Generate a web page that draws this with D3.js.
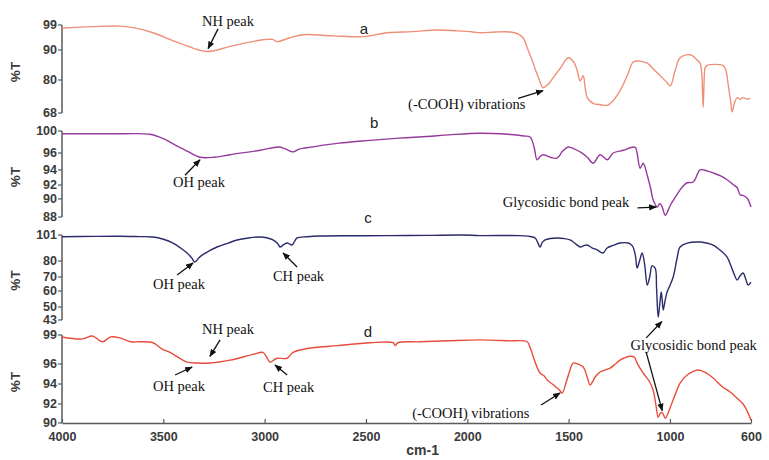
<!DOCTYPE html>
<html>
<head>
<meta charset="utf-8">
<script src="https://cdn.jsdelivr.net/npm/d3@7"></script>
<style>
  body { margin: 0; background: #fff; }
  .tick-label { font-family: "Liberation Sans Narrow", "Arial Narrow", "Liberation Sans", sans-serif; font-weight: bold; font-size: 12.5px; fill: #3a3a3a; }
  .note { font-family: "Liberation Serif", "Times New Roman", serif; font-size: 14.5px; fill: #111; }
  .panel-letter { font-family: "Liberation Sans", Arial, sans-serif; font-size: 15px; fill: #222; }
</style>
</head>
<body>
<svg id="ftir" width="769" height="460"></svg>
<script>
// x ticks (wavenumber, cm-1)
const xTicks = [4000, 3500, 3000, 2500, 2000, 1500, 1000, 600];

// per-panel %T tick labels
const ticksA = [68, 80, 90, 99];
const ticksB = [88, 90, 92, 94, 96, 100];
const ticksC = [43, 50, 60, 70, 80, 101];
const ticksD = [90, 92, 94, 96, 99];

// spectra: [wavenumber, %T]
const specA = [[4000,97.9],[3850,98.4],[3714,98.6],[3630,97.8],[3551,96.2],[3420,92.5],[3284,89.5],[3171,91.3],[3008,93.7],[2960,93.8],[2939,93],[2880,94.3],[2810,95.5],[2662,95.1],[2514,94.8],[2396,96.2],[2270,96.6],[2149,97.2],[2050,96.9],[1971,96.5],[1937,96.2],[1860,96.5],[1789,96.5],[1750,95.8],[1725,94.4],[1700,90],[1675,85.6],[1650,81],[1626,77.2],[1600,78.5],[1577,80.7],[1540,84],[1502,87.4],[1475,86],[1458,83.2],[1443,79.6],[1428,81.4],[1418,77],[1408,73.6],[1379,71.5],[1340,71],[1309,70.8],[1280,72.5],[1246,76.1],[1210,81.5],[1181,86],[1150,86.3],[1112,85.6],[1080,83.5],[1048,81.4],[1020,79.5],[998,77.9],[975,83],[950,87.4],[900,88.4],[866,86.7],[851,85.6],[843,82],[836,70.1],[830,82],[826,84.2],[816,84.9],[740,84.9],[728,84],[720,82],[713,78.6],[700,72],[693,68.4],[680,72],[668,73.6],[655,73],[639,73.6],[620,73.1],[604,73.3]];

const specB = [[4000,99.5],[3700,99.5],[3566,99.4],[3500,98.6],[3443,97.5],[3380,96.3],[3319,95.5],[3250,95.5],[3171,95.8],[3023,96.5],[2930,97.1],[2900,96.8],[2860,96.2],[2830,96.7],[2801,96.9],[2633,97.8],[2480,98.3],[2337,98.7],[2200,99],[2090,99.3],[1937,99.6],[1800,99.4],[1720,99.1],[1690,98.9],[1670,97],[1656,95.2],[1640,95.6],[1626,95.8],[1591,95.5],[1557,95.4],[1530,96.3],[1502,97.1],[1470,96.7],[1443,96.2],[1408,95.5],[1379,94.8],[1344,95.8],[1309,95.2],[1280,96],[1231,96.5],[1181,97.1],[1170,97],[1162,96],[1147,94.2],[1132,94.8],[1112,93.3],[1095,91.5],[1083,89.9],[1063,89.1],[1050,89.5],[1038,89.1],[1023,88.2],[998,89.3],[970,90.4],[950,91.3],[930,92],[915,92.3],[885,92.4],[851,94],[820,93.9],[787,93.6],[750,93.2],[718,92.7],[690,92.1],[668,91.6],[654,90.6],[640,90.5],[619,90.1],[600,89.1]];

const specC = [[4000,99.6],[3850,99.9],[3714,100],[3620,99.7],[3551,99.4],[3500,97.6],[3452,94.5],[3415,90.5],[3383,86.5],[3360,82.5],[3344,79.4],[3325,82.5],[3309,84.8],[3270,88.5],[3235,91.3],[3180,94.5],[3136,97],[3080,98.6],[3023,99.4],[2990,98.8],[2959,97],[2935,94],[2924,91.3],[2905,93.4],[2889,94.5],[2875,93.6],[2865,92.9],[2850,96.5],[2840,98.6],[2790,99.6],[2727,100.2],[2560,100.4],[2396,100.5],[2200,100.7],[2021,101],[1937,100.5],[1739,100.5],[1690,99.8],[1665,98.6],[1650,94],[1641,91.3],[1630,95],[1616,97],[1590,98.2],[1557,98.6],[1520,98.1],[1493,97],[1470,94.5],[1443,91.3],[1425,92.4],[1409,92.9],[1385,90.7],[1359,88.9],[1330,86.5],[1310,90.5],[1280,92.6],[1246,94.5],[1206,94.5],[1190,93],[1182,91.3],[1170,84],[1162,75.6],[1150,80],[1137,86.5],[1125,78],[1112,64.3],[1100,70],[1088,76.9],[1073,75.6],[1066,62],[1058,44.6],[1050,52],[1043,59.4],[1038,54],[1033,48.4],[1024,54],[1014,59.4],[1000,64],[984,70],[965,82],[950,91.3],[915,94.5],[851,95.3],[820,94.5],[787,92.9],[750,88.5],[718,83.2],[690,74],[668,67.9],[655,70.5],[639,72.5],[625,68],[614,64.3],[600,66.4]];

const specD = [[4000,98.8],[3900,98.6],[3850,98.9],[3800,98.3],[3760,98.8],[3714,98.7],[3660,98.3],[3615,98.3],[3551,98.2],[3510,97.6],[3467,97.2],[3420,96.6],[3383,96.2],[3334,96.1],[3270,96.1],[3171,96.4],[3057,97],[3008,97.2],[2990,96.7],[2973,96.2],[2955,96.4],[2939,96.6],[2889,96.6],[2860,97.2],[2791,97.6],[2643,97.9],[2480,98.2],[2366,98.2],[2356,97.9],[2342,98.2],[2233,98.3],[2100,98.4],[1937,98.5],[1800,98.4],[1705,98.3],[1690,97.7],[1675,96.8],[1660,95.9],[1641,95.1],[1620,94.8],[1606,94.4],[1580,94],[1557,93.6],[1545,93.4],[1532,93.1],[1510,94.3],[1493,95.4],[1478,96.1],[1455,96],[1428,95.7],[1410,94.8],[1394,93.9],[1380,94.3],[1369,94.7],[1345,95.2],[1295,95.6],[1270,96],[1246,96.4],[1196,96.8],[1175,96.7],[1162,96.1],[1132,95.1],[1100,94.2],[1083,93.4],[1070,92],[1058,90.6],[1048,91],[1038,91.1],[1023,90.5],[1010,91],[999,91.6],[975,92.9],[950,94.1],[915,94.9],[861,95.4],[820,95.1],[787,94.6],[740,93.7],[703,93.2],[670,92.6],[639,92],[620,91.3],[600,90.3]];

const spectra = [
  { key: "a", data: specA, ticks: ticksA, color: "#ef8f78", top: 25, bottom: 113 },
  { key: "b", data: specB, ticks: ticksB, color: "#953a9c", top: 131, bottom: 217 },
  { key: "c", data: specC, ticks: ticksC, color: "#2b2b6b", top: 235, bottom: 320 },
  { key: "d", data: specD, ticks: ticksD, color: "#e84c3b", top: 335, bottom: 423 },
];

// tick positions as fraction of panel height (top=0)
const tickFrac = {
  a: [1, 0.625, 0.284, 0],
  b: [1, 0.79, 0.628, 0.453, 0.256, 0],
  c: [1, 0.847, 0.659, 0.494, 0.306, 0],
  d: [1, 0.784, 0.557, 0.33, 0],
};

// annotations: text anchored in data units of a panel, arrows from/to
const notes = [
  { p: "a", text: "NH peak", w: 3309, v: 98.6, from: [3230, 97.6], to: [3279, 90.5] },
  { p: "a", text: "(-COOH) vibrations", w: 2292, v: 69.4, from: [1749, 73.3], to: [1626, 76.1] },
  { p: "b", text: "OH peak", w: 3452, v: 91.7, from: [3393, 93.3], to: [3319, 95.2] },
  { p: "b", text: "Glycosidic bond peak", w: 1825, v: 89.1, from: [1160, 89.0], to: [1068, 89.1] },
  { p: "c", text: "OH peak", w: 3551, v: 61.4, from: [3432, 71.3], to: [3353, 78.8] },
  { p: "c", text: "CH peak", w: 2959, v: 67.1, from: [2840, 76.3], to: [2909, 86.5] },
  { p: "d", text: "NH peak", w: 3309, v: 99.1, from: [3220, 98.5], to: [3270, 96.8] },
  { p: "d", text: "OH peak", w: 3551, v: 93.3, from: [3442, 94.9], to: [3358, 95.7] },
  { p: "d", text: "CH peak", w: 3008, v: 93.2, from: [2889, 94.9], to: [2949, 95.9] },
  { p: "d", text: "(-COOH) vibrations", w: 2272, v: 90.5, from: [1636, 91.9], to: [1542, 93.1] },
  { p: "d", text: "Glycosidic bond peak", w: 1195, v: 97.4, from: [1117, 97.2], to: [1038, 91.3] },
];
// the glycosidic label in panel d also points up to the band in panel c
const crossArrow = { fromP: "d", from: [1117, 98.7], toP: "c", to: [1040, 42.2] };
const panelLetters = [
  { p: "a", w: 2510, v: 95.6 },
  { p: "b", w: 2460, v: 100.5 },
  { p: "c", w: 2490, v: 110.5 },
  { p: "d", w: 2490, v: 98.8 },
];

const svg = d3.select("svg#ftir");
const xLeft = 62;
const xRight = 751;
const x = d3.scaleLinear().domain([4000, 600]).range([xLeft, xRight]);

const yScales = {};
spectra.forEach((s) => {
  const h = s.bottom - s.top;
  yScales[s.key] = d3
    .scaleLinear()
    .domain(s.ticks)
    .range(tickFrac[s.key].map((f) => s.top + f * h));
});

svg
  .append("defs")
  .append("marker")
  .attr("id", "arrowhead")
  .attr("viewBox", "0 -5 10 10")
  .attr("refX", 9)
  .attr("refY", 0)
  .attr("markerWidth", 6)
  .attr("markerHeight", 6)
  .attr("orient", "auto")
  .append("path")
  .attr("d", "M0,-4L10,0L0,4Z")
  .attr("fill", "#111");

const axisColor = "#5a5a5a";

spectra.forEach((s) => {
  const y = yScales[s.key];
  const g = svg.append("g").attr("class", `panel panel-${s.key}`);

  // y axis line + ticks
  g.append("line")
    .attr("x1", xLeft)
    .attr("x2", xLeft)
    .attr("y1", y(d3.max(s.ticks)))
    .attr("y2", y(d3.min(s.ticks)))
    .attr("stroke", axisColor)
    .attr("stroke-width", 1.5);

  g.selectAll("line.ytick")
    .data(s.ticks)
    .join("line")
    .attr("class", "ytick")
    .attr("x1", xLeft - 4)
    .attr("x2", xLeft)
    .attr("y1", (d) => y(d))
    .attr("y2", (d) => y(d))
    .attr("stroke", axisColor)
    .attr("stroke-width", 1.2);

  g.selectAll("text.ylab")
    .data(s.ticks)
    .join("text")
    .attr("class", "ylab tick-label")
    .attr("x", xLeft - 5)
    .attr("y", (d) => y(d))
    .attr("text-anchor", "end")
    .attr("dominant-baseline", "central")
    .text((d) => d);

  // %T title
  const midY = (s.top + s.bottom) / 2 + 3;
  g.append("text")
    .attr("class", "tick-label")
    .attr("transform", `translate(20, ${midY}) rotate(-90)`)
    .attr("text-anchor", "middle")
    .style("font-size", "13.5px")
    .text("%T");

  // spectrum
  const line = d3
    .line()
    .x((d) => x(d[0]))
    .y((d) => y(d[1]))
    .curve(d3.curveCatmullRom.alpha(0.5));

  g.append("path")
    .datum(s.data)
    .attr("fill", "none")
    .attr("stroke", s.color)
    .attr("stroke-width", 1.4)
    .attr("stroke-linejoin", "round")
    .attr("d", line);
});

// bottom x axis
const yAxisBottom = yScales.d(90);
const xAxis = d3
  .axisBottom(x)
  .tickValues(xTicks)
  .tickSizeInner(-4)
  .tickSizeOuter(0)
  .tickPadding(9)
  .tickFormat(d3.format("d"));

const xg = svg
  .append("g")
  .attr("transform", `translate(0, ${yAxisBottom})`)
  .call(xAxis);
xg.select(".domain").attr("stroke", axisColor).attr("stroke-width", 1.5);
xg.selectAll(".tick line").attr("stroke", axisColor).attr("stroke-width", 1.2);
xg.selectAll(".tick text").attr("class", "tick-label").attr("fill", null);

svg
  .append("text")
  .attr("class", "tick-label")
  .attr("x", (x(2000) + x(2500)) / 2 + 6)
  .attr("y", 455)
  .attr("text-anchor", "middle")
  .style("font-size", "14px")
  .text("cm-1");

// panel letters
svg
  .selectAll("text.panel-letter")
  .data(panelLetters)
  .join("text")
  .attr("class", "panel-letter")
  .attr("x", (d) => x(d.w))
  .attr("y", (d) => yScales[d.p](d.v))
  .attr("text-anchor", "middle")
  .text((d) => d.p);

// annotations
notes.forEach((n) => {
  const y = yScales[n.p];
  svg
    .append("text")
    .attr("class", "note")
    .attr("x", x(n.w))
    .attr("y", y(n.v))
    .text(n.text);
  svg
    .append("line")
    .attr("x1", x(n.from[0]))
    .attr("y1", y(n.from[1]))
    .attr("x2", x(n.to[0]))
    .attr("y2", y(n.to[1]))
    .attr("stroke", "#111")
    .attr("stroke-width", 1.3)
    .attr("marker-end", "url(#arrowhead)");
});

svg
  .append("line")
  .attr("x1", x(crossArrow.from[0]))
  .attr("y1", yScales[crossArrow.fromP](crossArrow.from[1]))
  .attr("x2", x(crossArrow.to[0]))
  .attr("y2", yScales[crossArrow.toP](crossArrow.to[1]))
  .attr("stroke", "#111")
  .attr("stroke-width", 1.3)
  .attr("marker-end", "url(#arrowhead)");
</script>
</body>
</html>
